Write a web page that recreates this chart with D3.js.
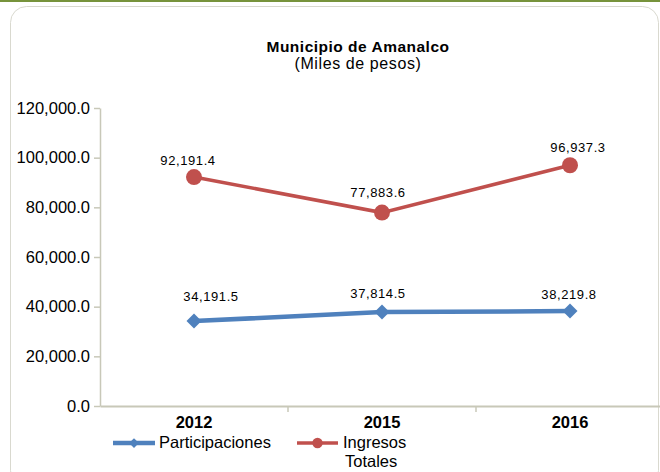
<!DOCTYPE html>
<html lang="en">
<head>
    <meta charset="UTF-8">
    <title>Municipio de Amanalco</title>
    <script src="https://d3js.org/d3.v7.min.js"></script>
    <style>
        body { margin: 0; background: white; font-family: "Liberation Sans", Arial, sans-serif; }
        svg { display: block; }
    </style>
</head>
<body>
    <div id="chart"></div>
    <script>
        // chart data
        const years = ["2012", "2015", "2016"];
        const participaciones = [34191.5, 37814.5, 38219.8];
        const ingresosTotales = [92191.4, 77883.6, 96937.3];
        const yTicks = [0, 20000, 40000, 60000, 80000, 100000, 120000];

        const width = 660, height = 472;
        const plot = { left: 100, right: 664, top: 108, bottom: 406 };
        // hand-placed data label nudges (dx, dy from the marker), as in the original
        const labelNudge = {
            participaciones: [[17, -20], [-4, -14], [-1, -12]],
            ingresos: [[-6, -12], [-4, -16], [8, -13]]
        };

        const svg = d3.select("#chart")
            .append("svg")
            .attr("width", width)
            .attr("height", height);

        // green rule at top and rounded frame
        svg.append("rect")
            .attr("x", 0).attr("y", 0)
            .attr("width", width).attr("height", 2)
            .attr("fill", "#77933c");
        svg.append("rect")
            .attr("x", 10.5).attr("y", 6.5)
            .attr("width", 648).attr("height", 480)
            .attr("rx", 16)
            .attr("fill", "none")
            .attr("stroke", "#d9d9cf")
            .attr("stroke-width", 1);

        // title
        svg.append("text")
            .attr("x", 358).attr("y", 52)
            .attr("text-anchor", "middle")
            .attr("font-size", "15.5px")
            .attr("font-weight", "bold")
            .attr("letter-spacing", "0.5px")
            .text("Municipio de Amanalco");
        svg.append("text")
            .attr("x", 358).attr("y", 69)
            .attr("text-anchor", "middle")
            .attr("font-size", "16px")
            .attr("letter-spacing", "0.6px")
            .text("(Miles de pesos)");

        const x = d3.scaleBand()
            .domain(years)
            .range([plot.left, plot.right]);

        const y = d3.scaleLinear()
            .domain([0, 120000])
            .range([plot.bottom, plot.top]);

        const fmt = d3.format(",.1f");

        // y axis
        const yAxis = svg.append("g")
            .attr("transform", `translate(${plot.left},0)`)
            .call(d3.axisLeft(y).tickValues(yTicks).tickFormat(fmt).tickSize(6).tickSizeOuter(0));
        yAxis.select(".domain").attr("stroke", "#c8c8b8").attr("stroke-width", 1.5);
        yAxis.selectAll(".tick line").attr("stroke", "#c8c8b8").attr("stroke-width", 1.5);
        yAxis.selectAll(".tick text")
            .attr("font-size", "16.5px")
            .attr("font-family", "Liberation Sans, Arial, sans-serif")
            .attr("fill", "#000")
            .attr("x", -10);

        // x axis
        const xAxis = svg.append("g")
            .attr("transform", `translate(0,${plot.bottom})`)
            .call(d3.axisBottom(x).tickSize(0));
        xAxis.select(".domain").attr("stroke", "#c8c8b8").attr("stroke-width", 2);
        xAxis.selectAll(".tick text")
            .attr("font-size", "16.5px")
            .attr("font-weight", "bold")
            .attr("font-family", "Liberation Sans, Arial, sans-serif")
            .attr("fill", "#000")
            .attr("dy", "0")
            .attr("y", 22);
        // category separator ticks
        svg.selectAll(".sep")
            .data(years.slice(1))
            .enter()
            .append("line")
            .attr("class", "sep")
            .attr("x1", d => x(d)).attr("x2", d => x(d))
            .attr("y1", plot.bottom).attr("y2", plot.bottom + 6)
            .attr("stroke", "#c8c8b8")
            .attr("stroke-width", 1.5);

        const cx = d => x(d) + x.bandwidth() / 2;
        const series = [
            { name: "Participaciones", values: participaciones, color: "#4f81bd", width: 4.5, marker: "diamond", nudge: labelNudge.participaciones },
            { name: "Ingresos Totales", values: ingresosTotales, color: "#c0504d", width: 3.5, marker: "circle", nudge: labelNudge.ingresos }
        ];

        function drawMarker(g, s, px, py, scale) {
            if (s.marker === "diamond") {
                const r = 7.5 * scale;
                g.append("path")
                    .attr("d", `M${px - r},${py}L${px},${py - r}L${px + r},${py}L${px},${py + r}Z`)
                    .attr("fill", s.color);
            } else {
                g.append("circle")
                    .attr("cx", px).attr("cy", py)
                    .attr("r", 8 * scale)
                    .attr("fill", s.color);
            }
        }

        const line = d3.line()
            .x((d, i) => cx(years[i]))
            .y(d => y(d));

        series.forEach(s => {
            svg.append("path")
                .datum(s.values)
                .attr("d", line)
                .attr("fill", "none")
                .attr("stroke", s.color)
                .attr("stroke-width", s.width);
            const g = svg.append("g");
            s.values.forEach((v, i) => drawMarker(g, s, cx(years[i]), y(v), 1));
            svg.selectAll(null)
                .data(s.values)
                .enter()
                .append("text")
                .attr("x", (d, i) => cx(years[i]) + s.nudge[i][0])
                .attr("y", (d, i) => y(d) + s.nudge[i][1])
                .attr("text-anchor", "middle")
                .attr("font-size", "13px")
                .attr("letter-spacing", "0.6px")
                .attr("fill", "#000")
                .text(d => fmt(d));
        });

        // legend
        const legend = svg.append("g");
        const legendItems = [
            { s: series[0], x1: 113, x2: 155, tx: 159, lines: ["Participaciones"] },
            { s: series[1], x1: 297, x2: 338, tx: 343, lines: ["Ingresos", "Totales"] }
        ];
        legendItems.forEach(it => {
            legend.append("line")
                .attr("x1", it.x1).attr("x2", it.x2)
                .attr("y1", 443).attr("y2", 443)
                .attr("stroke", it.s.color)
                .attr("stroke-width", it.s.width);
            drawMarker(legend, it.s, (it.x1 + it.x2) / 2, 443, 0.65);
            it.lines.forEach((t, j) => {
                legend.append("text")
                    .attr("x", it.tx + (j > 0 ? 2 : 0))
                    .attr("y", 448 + j * 19)
                    .attr("font-size", "16.5px")
                    .attr("fill", "#000")
                    .text(t);
            });
        });
    </script>
</body>
</html>
